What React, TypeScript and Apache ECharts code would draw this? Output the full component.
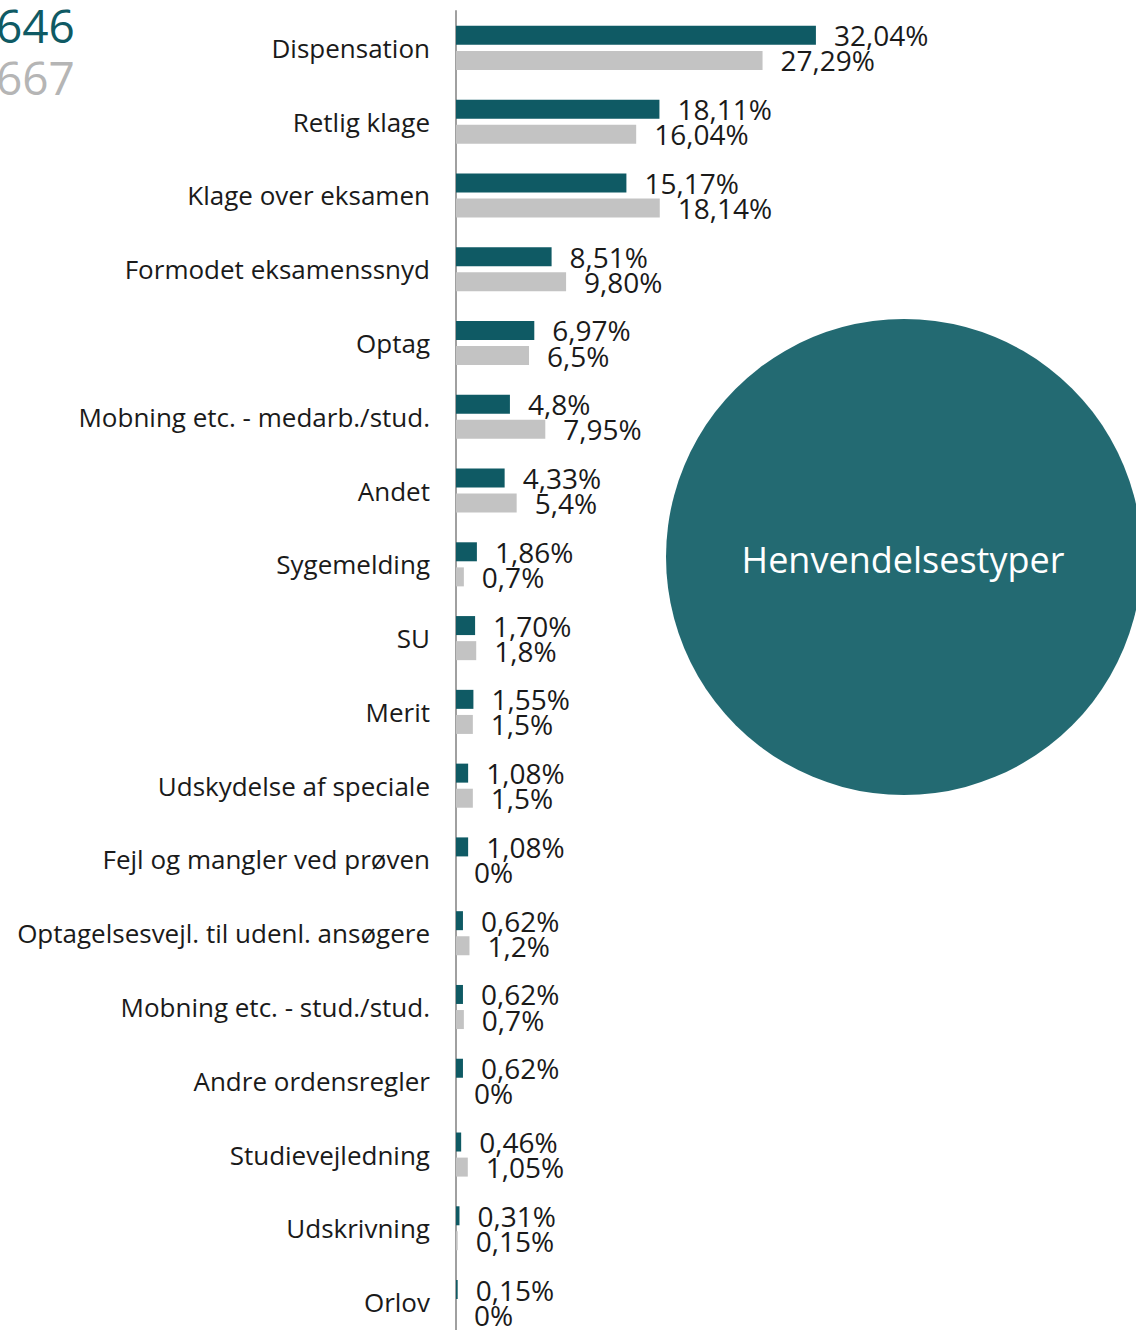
import React, { useEffect, useRef } from "react";
import * as echarts from "echarts";

const categories = [
  "Dispensation",
  "Retlig klage",
  "Klage over eksamen",
  "Formodet eksamenssnyd",
  "Optag",
  "Mobning etc. - medarb./stud.",
  "Andet",
  "Sygemelding",
  "SU",
  "Merit",
  "Udskydelse af speciale",
  "Fejl og mangler ved prøven",
  "Optagelsesvejl. til udenl. ansøgere",
  "Mobning etc. - stud./stud.",
  "Andre ordensregler",
  "Studievejledning",
  "Udskrivning",
  "Orlov",
];

const currentValues = [32.04, 18.11, 15.17, 8.51, 6.97, 4.8, 4.33, 1.86, 1.7, 1.55, 1.08, 1.08, 0.62, 0.62, 0.62, 0.46, 0.31, 0.15];
const currentLabels = ["32,04%", "18,11%", "15,17%", "8,51%", "6,97%", "4,8%", "4,33%", "1,86%", "1,70%", "1,55%", "1,08%", "1,08%", "0,62%", "0,62%", "0,62%", "0,46%", "0,31%", "0,15%"];

const previousValues = [27.29, 16.04, 18.14, 9.8, 6.5, 7.95, 5.4, 0.7, 1.8, 1.5, 1.5, 0, 1.2, 0.7, 0, 1.05, 0.15, 0];
const previousLabels = ["27,29%", "16,04%", "18,14%", "9,80%", "6,5%", "7,95%", "5,4%", "0,7%", "1,8%", "1,5%", "1,5%", "0%", "1,2%", "0,7%", "0%", "1,05%", "0,15%", "0%"];

const currentTotal = "646";
const previousTotal = "667";
const title = "Henvendelsestyper";

const DARK = "#0f5a64";
const GRAY = "#c3c3c3";
const FONT = "'Open Sans', 'Noto Sans', sans-serif";

export default function App() {
  const ref = useRef<HTMLDivElement>(null);
  useEffect(() => {
    document.body.style.margin = "0";
    const chart = echarts.init(ref.current!, null, { renderer: "svg" });
    chart.setOption({
      animation: false,
      backgroundColor: "#ffffff",
      grid: { left: 456, top: 11, width: 674, height: 1328 },
      xAxis: {
        type: "value",
        min: 0,
        max: 60,
        show: false,
      },
      yAxis: {
        type: "category",
        data: categories,
        inverse: true,
        axisLine: { show: true, lineStyle: { color: "#a0a0a0", width: 2 } },
        axisTick: { show: false },
        axisLabel: {
          fontSize: 26,
          fontFamily: FONT,
          color: "#1a1a1a",
          margin: 26,
          padding: [0, 0, 4, 0],
        },
      },
      series: [
        {
          type: "bar",
          name: "current",
          data: currentValues,
          barWidth: 19,
          barGap: "32%",
          itemStyle: { color: DARK },
          label: {
            show: true,
            position: "right",
            distance: 18,
            fontSize: 28,
            fontFamily: FONT,
            color: "#1a1a1a",
            formatter: (p: any) => currentLabels[p.dataIndex],
          },
        },
        {
          type: "bar",
          name: "previous",
          data: previousValues,
          barWidth: 19,
          itemStyle: { color: GRAY },
          label: {
            show: true,
            position: "right",
            distance: 18,
            fontSize: 28,
            fontFamily: FONT,
            color: "#1a1a1a",
            formatter: (p: any) => previousLabels[p.dataIndex],
          },
        },
      ],
      graphic: [
        {
          type: "text",
          left: -4,
          top: 2,
          style: { text: currentTotal, fontSize: 46, fontFamily: FONT, fontWeight: 500, fill: DARK },
        },
        {
          type: "text",
          left: -4,
          top: 54,
          style: { text: previousTotal, fontSize: 46, fontFamily: FONT, fontWeight: 500, fill: "#b5b5b5" },
        },
        {
          type: "circle",
          shape: { cx: 904, cy: 557, r: 238 },
          style: { fill: "#236a72" },
          z: 10,
        },
        {
          type: "text",
          x: 903,
          y: 559,
          z: 11,
          style: {
            text: title,
            fontSize: 36,
            fontFamily: FONT,
            fill: "#ffffff",
            textAlign: "center",
            textVerticalAlign: "middle",
          },
        },
      ],
    });
    return () => chart.dispose();
  }, []);
  return (
    <div style={{ width: 1136, height: 1330, overflow: "hidden" }}>
      <div ref={ref} style={{ width: 1136, height: 1345 }} />
    </div>
  );
}
